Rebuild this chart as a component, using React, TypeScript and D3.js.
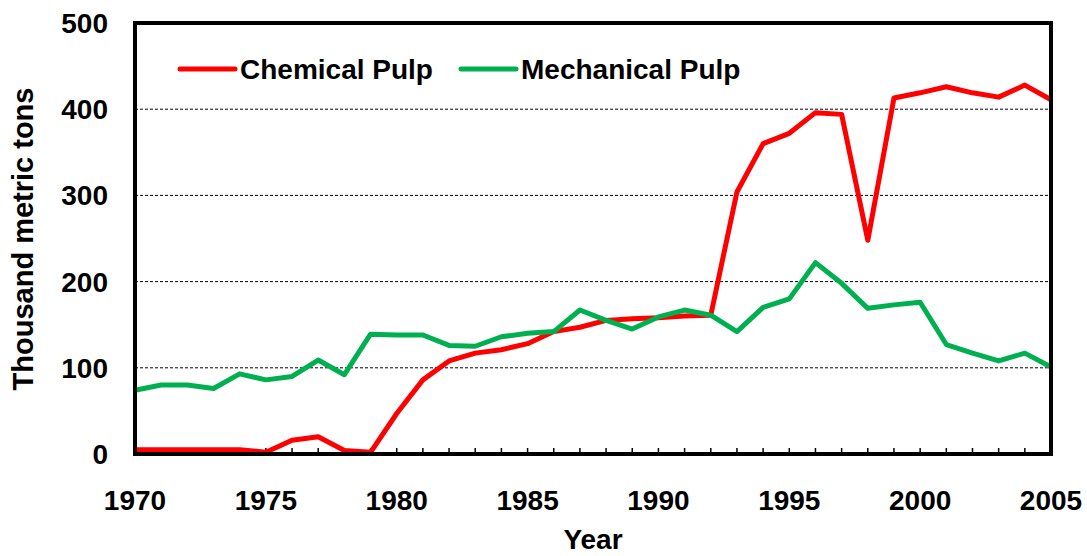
import React from "react";
import * as d3 from "d3";

const years = [
  1970, 1971, 1972, 1973, 1974, 1975, 1976, 1977, 1978, 1979,
  1980, 1981, 1982, 1983, 1984, 1985, 1986, 1987, 1988, 1989,
  1990, 1991, 1992, 1993, 1994, 1995, 1996, 1997, 1998, 1999,
  2000, 2001, 2002, 2003, 2004, 2005,
];
const chemicalPulp = [
  5, 5, 5, 5, 5, 2, 16, 20, 4, 2,
  47, 86, 108, 117, 121, 128, 142, 147, 155, 157,
  158, 160, 161, 304, 360, 372, 396, 394, 248, 413,
  419, 426, 419, 414, 428, 411,
];
const mechanicalPulp = [
  74, 80, 80, 76, 93, 86, 90, 109, 92, 139,
  138, 138, 126, 125, 136, 140, 142, 167, 155, 145,
  159, 167, 161, 142, 170, 180, 222, 198, 169, 173,
  176, 127, 117, 108, 117, 101,
];
const yTicks = [0, 100, 200, 300, 400, 500];
const xTickLabels = [1970, 1975, 1980, 1985, 1990, 1995, 2000, 2005];
const seriesNames = ["Chemical Pulp", "Mechanical Pulp"];
const seriesColors = ["#FF0000", "#00B050"];

const W = 1087;
const H = 556;
const M = { left: 135, right: 1051, top: 23, bottom: 454 };
const FONT = "'Liberation Sans', Arial, sans-serif";

export default function App() {
  const x = d3.scaleLinear().domain([1970, 2005]).range([M.left, M.right]);
  const y = d3.scaleLinear().domain([0, 500]).range([M.bottom, M.top]);
  const line = d3
    .line<number>()
    .x((_, i) => x(years[i]))
    .y((d) => y(d));

  const series = [chemicalPulp, mechanicalPulp];

  return (
    <svg
      width={W}
      height={H}
      style={{ position: "absolute", left: 0, top: 0, background: "#fff" }}
      fontFamily={FONT}
    >
      <rect x={0} y={0} width={W} height={H} fill="#fff" />
      {yTicks
        .filter((t) => t > 0 && t < 500)
        .map((t) => (
          <line
            key={"g" + t}
            x1={M.left}
            x2={M.right}
            y1={y(t)}
            y2={y(t)}
            stroke="#000"
            strokeWidth={1}
            strokeDasharray="3,2"
          />
        ))}
      {years.map((yr) => (
        <line
          key={"t" + yr}
          x1={x(yr)}
          x2={x(yr)}
          y1={M.bottom}
          y2={M.bottom - 6}
          stroke="#000"
          strokeWidth={1.5}
        />
      ))}
      {series.map((s, i) => (
        <path
          key={"s" + i}
          d={line(s) || ""}
          fill="none"
          stroke={seriesColors[i]}
          strokeWidth={5}
          strokeLinejoin="round"
        />
      ))}
      <rect
        x={M.left}
        y={M.top}
        width={M.right - M.left}
        height={M.bottom - M.top}
        fill="none"
        stroke="#000"
        strokeWidth={4}
      />
      {yTicks.map((t) => (
        <text
          key={"yl" + t}
          x={108}
          y={y(t)}
          dy="0.36em"
          textAnchor="end"
          fontSize={28}
          fontWeight="bold"
        >
          {t}
        </text>
      ))}
      {xTickLabels.map((t) => (
        <text
          key={"xl" + t}
          x={x(t)}
          y={510}
          textAnchor="middle"
          fontSize={28}
          fontWeight="bold"
        >
          {t}
        </text>
      ))}
      <text
        transform={`translate(33, 239) rotate(-90)`}
        textAnchor="middle"
        fontSize={29}
        fontWeight="bold"
      >
        Thousand metric tons
      </text>
      <text x={593} y={549} textAnchor="middle" fontSize={28} fontWeight="bold">
        Year
      </text>
      {seriesNames.map((n, i) => {
        const lx = i === 0 ? 180 : 461;
        return (
          <g key={"lg" + i}>
            <line
              x1={lx}
              x2={lx + 55}
              y1={69}
              y2={69}
              stroke={seriesColors[i]}
              strokeWidth={5}
              strokeLinecap="round"
            />
            <text x={lx + 60} y={79} fontSize={28} fontWeight="bold">
              {n}
            </text>
          </g>
        );
      })}
    </svg>
  );
}
